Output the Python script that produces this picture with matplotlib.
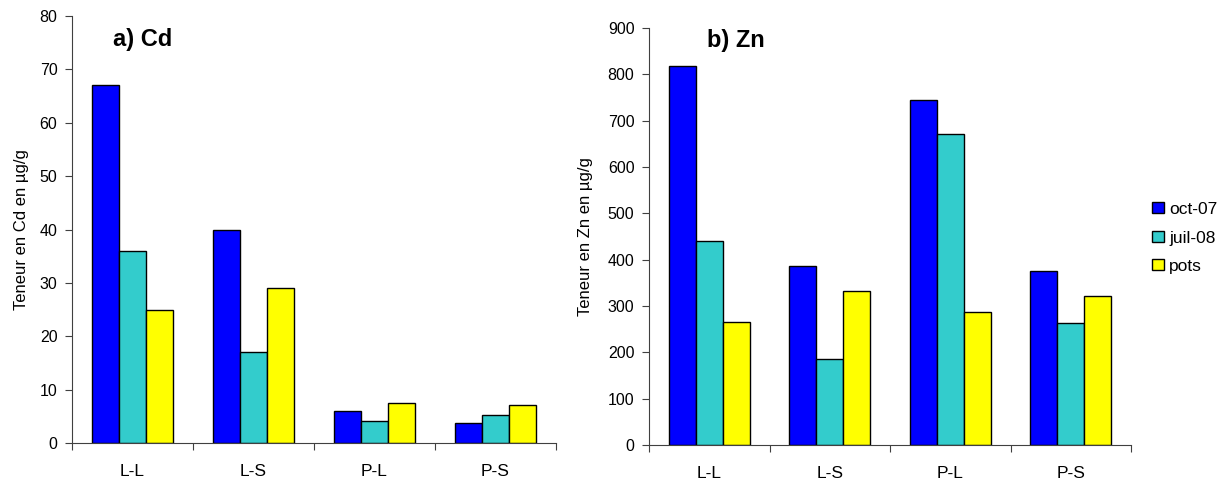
import matplotlib.pyplot as plt
import numpy as np

plt.rcParams["font.family"] = ["Liberation Sans", "DejaVu Sans"]

categories = ["L-L", "L-S", "P-L", "P-S"]
series = ["oct-07", "juil-08", "pots"]
colors = ["#0000ff", "#33cccc", "#ffff00"]

cd_oct07 = [67, 40, 6.0, 3.7]
cd_juil08 = [36, 17, 4.1, 5.3]
cd_pots = [25, 29, 7.5, 7.2]

zn_oct07 = [818, 386, 745, 376]
zn_juil08 = [441, 185, 672, 264]
zn_pots = [266, 332, 288, 322]


def draw_panel(ax, values, title, title_xy, ylabel, label_x, ymax, ystep, xmax):
    x = np.arange(len(categories))
    width = 0.224
    for i, (vals, color, name) in enumerate(zip(values, colors, series)):
        ax.bar(x + (i - 1) * width, vals, width, color=color,
               edgecolor="black", linewidth=1.0, label=name)
    ax.set_xlim(-0.5, xmax)
    ax.set_ylim(0, ymax)
    ax.set_yticks(np.arange(0, ymax + 1, ystep))
    ax.set_xticks(np.arange(len(categories) + 1) - 0.5)
    ax.set_xticklabels([])
    ax.set_xticks(x, minor=True)
    ax.set_xticklabels(categories, minor=True)
    ax.tick_params(axis="x", which="major", length=5, direction="out", color="#404040")
    ax.tick_params(axis="x", which="minor", length=0, pad=15, labelsize=12.5)
    ax.tick_params(axis="y", length=5, direction="out", color="#404040",
                   labelsize=11.5, pad=5.5)
    for side in ["top", "right"]:
        ax.spines[side].set_visible(False)
    for side in ["left", "bottom"]:
        ax.spines[side].set_color("#404040")
    ax.set_ylabel(ylabel, fontsize=12)
    ax.yaxis.set_label_coords(label_x, 0.5)
    ax.text(title_xy[0], title_xy[1], title, transform=ax.transAxes, fontsize=17,
            fontweight="bold", va="center", ha="left")


fig = plt.figure(figsize=(12.31, 4.83), dpi=100)
ax1 = fig.add_axes([72 / 1231, 40 / 483, 484 / 1231, 427 / 483])
ax2 = fig.add_axes([649 / 1231, 38 / 483, 482 / 1231, 417 / 483])

draw_panel(ax1, [cd_oct07, cd_juil08, cd_pots], "a) Cd", (0.085, 0.944),
           "Teneur en Cd en µg/g", -0.089, 80, 10, 3.435)
draw_panel(ax2, [zn_oct07, zn_juil08, zn_pots], "b) Zn", (0.12, 0.971),
           "Teneur en Zn en µg/g", -0.116, 900, 100, 3.5)

handles, labels = ax2.get_legend_handles_labels()
fig.legend(handles, labels, loc="upper left", bbox_to_anchor=(1152 / 1231, 1 - 202 / 483),
           frameon=False, fontsize=12.5, handlelength=0.7, handleheight=0.6,
           handletextpad=0.3, labelspacing=0.78, borderaxespad=0, borderpad=0)

fig.savefig("out.png", dpi=100)
